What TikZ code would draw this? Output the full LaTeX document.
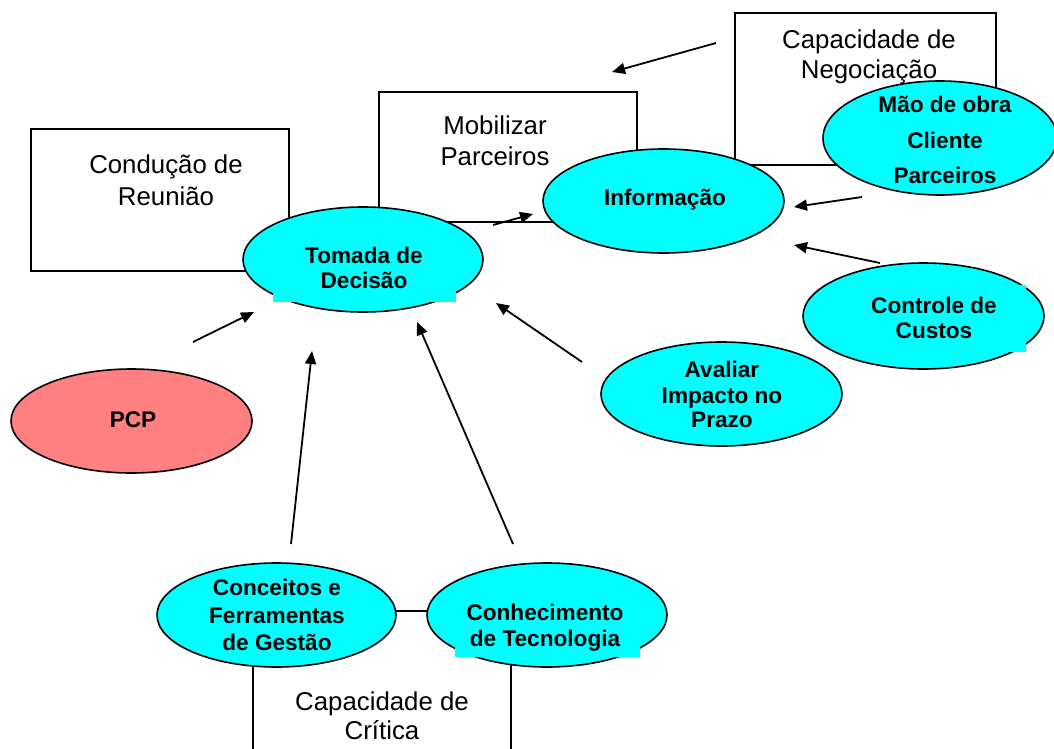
\documentclass[tikz,border=0pt]{standalone}
\usepackage{fontspec}
\setmainfont{Liberation Sans}
\usetikzlibrary{shapes.geometric,arrows.meta}
\definecolor{cy}{HTML}{00FFFF}
\definecolor{salmon}{HTML}{FF8080}
\newcommand\mytl[4]{\node[tl] (#1) at (#2,#3) {#4};}
\begin{document}
\begin{tikzpicture}[x=1pt,y=-1pt,
  box/.style={draw=black, line width=1.8pt, rectangle, inner sep=0pt, fill=white},
  ell/.style={draw=black, line width=1.6pt, ellipse, inner sep=0pt, fill=cy},
  patch/.style={fill=cy, draw=none},
  tl/.style={anchor=base, inner sep=0pt},
  rtext/.style={font=\fontsize{25.8}{30}\selectfont},
  btext/.style={font=\fontsize{22.6}{27}\selectfont\bfseries},
  arr/.style={draw=black, line width=1.8pt, -{Triangle[length=13pt,width=11pt]}}]
\clip (0,0) rectangle (1054,749);
\fill[white] (0,0) rectangle (1054,749);
% boxes
\node[box, minimum width=258pt, minimum height=142pt] (cond) at (160,200) {};
\node[box, minimum width=258pt, minimum height=130pt] (mob) at (508,157) {};
\node[box, minimum width=261pt, minimum height=152pt] (neg) at (865.5,89) {};
\node[box, minimum width=258pt, minimum height=189pt] (crit) at (382,705.5) {};
% box texts
\begin{scope}[every node/.append style={rtext}]
\mytl{cond1}{166}{173}{Condução de}
\mytl{cond2}{166}{205}{Reunião}
\mytl{mob1}{495}{135}{Mobilizar}
\mytl{mob2}{495}{165}{Parceiros}
\mytl{neg1}{869}{49}{Capacidade de}
\mytl{neg2}{869}{79}{Negociação}
\mytl{crit1}{382}{710}{Capacidade de}
\mytl{crit2}{382}{739}{Crítica}
\end{scope}
% ellipses
\node[ell, minimum width=240pt, minimum height=105pt] (tom) at (363,259.5) {};
\node[ell, minimum width=241pt, minimum height=104pt] (inf) at (663.5,201) {};
\node[ell, minimum width=234pt, minimum height=114pt] (mao) at (940,138) {};
\node[ell, minimum width=241pt, minimum height=106pt] (ctl) at (923.5,316) {};
\node[ell, minimum width=241pt, minimum height=104pt] (ava) at (721.5,394) {};
\node[ell, fill=salmon, minimum width=241pt, minimum height=104pt] (pcp) at (131.5,421) {};
\node[ell, minimum width=239pt, minimum height=104pt] (con) at (276.5,615) {};
\node[ell, minimum width=240pt, minimum height=104pt] (tec) at (547,615) {};
% text-box patches
\fill[patch] (273,250) rectangle (456,302);
\fill[patch] (455,625) rectangle (640,657);
\fill[patch] (850,285) rectangle (1026,352);
% ellipse texts
\begin{scope}[every node/.append style={btext}]
\mytl{tom1}{364}{263}{Tomada de}
\mytl{tom2}{364}{288}{Decisão}
\mytl{inf1}{665}{205}{Informação}
\mytl{mao1}{945}{113}{Mão de obra}
\mytl{mao2}{945}{148}{Cliente}
\mytl{mao3}{945}{183}{Parceiros}
\mytl{ctl1}{934}{313}{Controle de}
\mytl{ctl2}{934}{338}{Custos}
\mytl{ava1}{722}{377}{Avaliar}
\mytl{ava2}{722}{403}{Impacto no}
\mytl{ava3}{722}{427}{Prazo}
\mytl{pcp1}{133}{427}{PCP}
\mytl{con1}{277}{595}{Conceitos e}
\mytl{con2}{277}{623}{Ferramentas}
\mytl{con3}{277}{650}{de Gestão}
\mytl{tec1}{545}{620}{Conhecimento}
\mytl{tec2}{545}{646}{de Tecnologia}
\end{scope}
% arrow end points
\coordinate (a1s) at (716,43);  \coordinate (a1e) at (612,72);
\coordinate (a2s) at (493,225); \coordinate (a2e) at (533,214);
\coordinate (a3s) at (862,197); \coordinate (a3e) at (794,207);
\coordinate (a4s) at (880,263); \coordinate (a4e) at (794,245);
\coordinate (a5s) at (582,362); \coordinate (a5e) at (496,303);
\coordinate (a6s) at (513,544); \coordinate (a6e) at (417,322);
\coordinate (a7s) at (291,544); \coordinate (a7e) at (312,351);
\coordinate (a8s) at (193,342); \coordinate (a8e) at (254,312);
\draw[arr] (a1s) -- (a1e);
\draw[arr] (a2s) -- (a2e);
\draw[arr] (a3s) -- (a3e);
\draw[arr] (a4s) -- (a4e);
\draw[arr] (a5s) -- (a5e);
\draw[arr] (a6s) -- (a6e);
\draw[arr] (a7s) -- (a7e);
\draw[arr] (a8s) -- (a8e);
\end{tikzpicture}
\end{document}
